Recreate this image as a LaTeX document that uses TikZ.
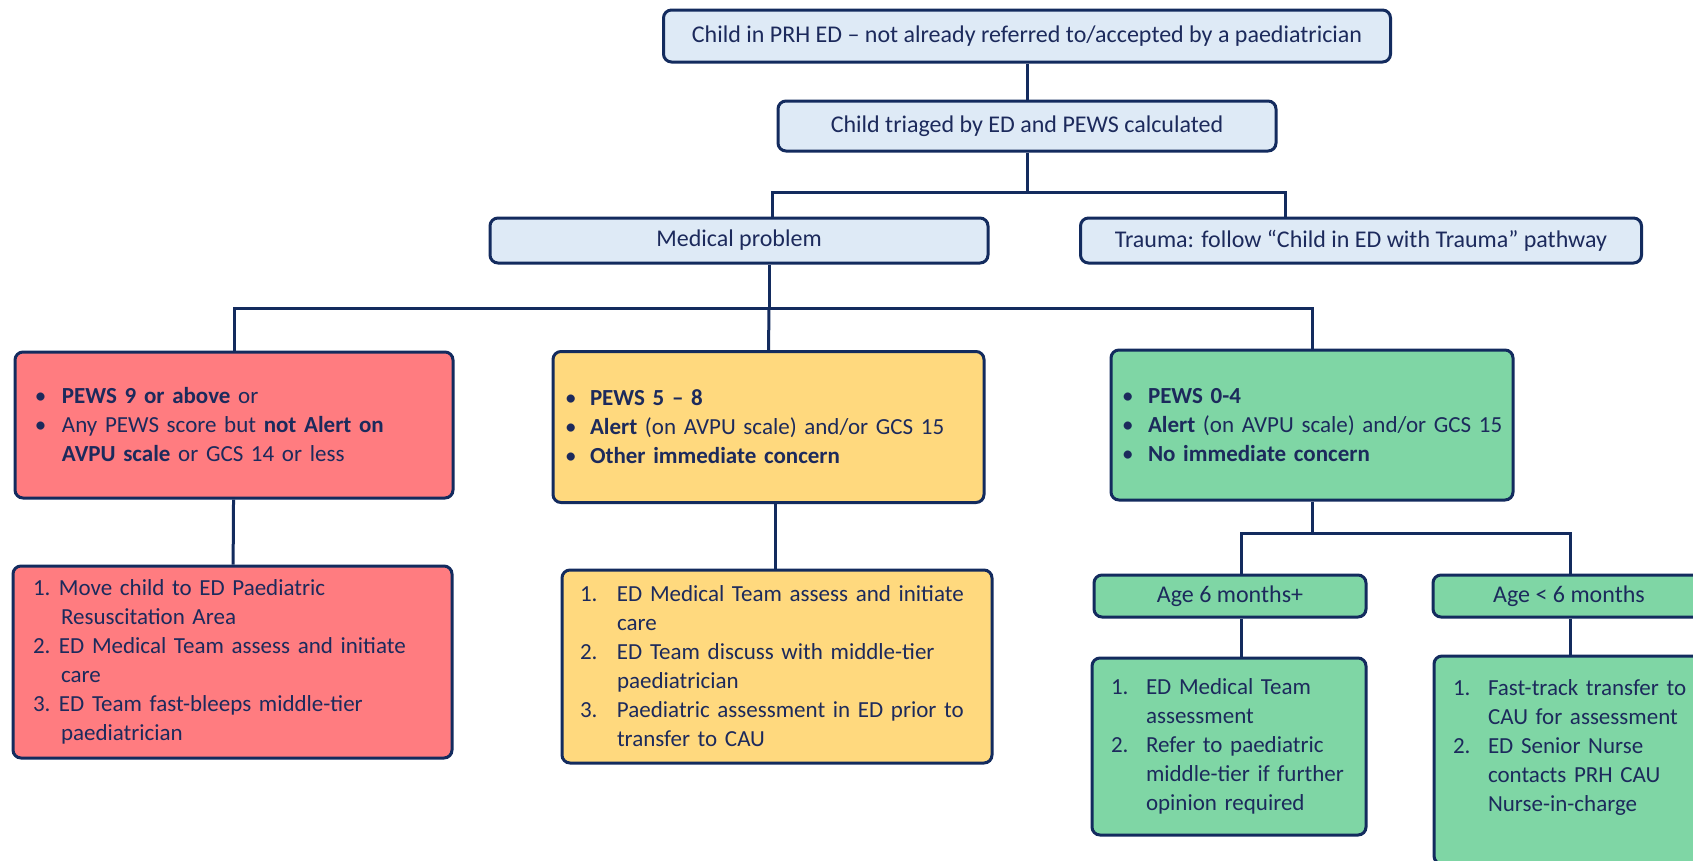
\documentclass[tikz,border=0pt]{standalone}
\usepackage{fontspec}
\setmainfont{Carlito}
\usepackage{tikz}
\usetikzlibrary{positioning}

\definecolor{pwline}{HTML}{132B5E}
\definecolor{pwtext}{HTML}{1C2A5C}
\definecolor{pwblue}{HTML}{DEEAF6}
\definecolor{pwred}{HTML}{FF7C80}
\definecolor{pwamber}{HTML}{FFD97E}
\definecolor{pwgreen}{HTML}{7FD6A5}

% list labels: lead-in, label width, label
\newcommand{\pwlab}[3]{\hspace*{#1}\makebox[#2][l]{#3}}
\newcommand{\pwcont}[1]{\hspace*{#1}}

\begin{document}
\begin{tikzpicture}[x=1pt, y=-1pt]
  \tikzstyle{card} = [draw=pwline, line width=3pt, rounded corners=8pt, inner sep=0pt,
    text=pwtext, font=\fontsize{23}{29}\selectfont]
  \tikzstyle{head} = [card, fill=pwblue, align=center, font=\fontsize{24}{29}\selectfont]
  \tikzstyle{list} = [card, align=left]
  \tikzstyle{link} = [draw=pwline, line width=3pt]

  \path[use as bounding box] (0,0) rectangle (1693,860);
  \fill[white] (0,0) rectangle (1693,860);
  \clip (0,0) rectangle (1693,860);

  % Define nodes
  \node[head, minimum width=727pt, minimum height=52pt] (start) at (1027,36)
    {Child in PRH ED – not already referred to/accepted by a paediatrician};
  \node[head, minimum width=498pt, minimum height=50pt] (triage) at (1027,126)
    {Child triaged by ED and PEWS calculated};
  \node[head, minimum width=498pt, minimum height=45pt] (medical) at (739,240.5)
    {Medical problem};
  \node[head, minimum width=561pt, minimum height=45pt] (trauma) at (1361,240.5)
    {Trauma: follow “Child in ED with Trauma” pathway};

  \node[list, fill=pwred, text width=438pt, minimum height=146pt] (red) at (234,425)
    {\pwlab{20pt}{27pt}{\textbullet}\textbf{PEWS 9 or above} or\\
     \pwlab{20pt}{27pt}{\textbullet}Any PEWS score but \textbf{not Alert on}\\
     \pwcont{47pt}\textbf{AVPU scale} or GCS 14 or less};
  \node[list, fill=pwamber, text width=431pt, minimum height=151pt] (amber) at (768.5,427)
    {\pwlab{12pt}{25pt}{\textbullet}\textbf{PEWS 5 – 8}\\
     \pwlab{12pt}{25pt}{\textbullet}\textbf{Alert} (on AVPU scale) and/or GCS 15\\
     \pwlab{12pt}{25pt}{\textbullet}\textbf{Other immediate concern}};
  \node[list, fill=pwgreen, text width=402pt, minimum height=150pt] (green) at (1312,425)
    {\pwlab{11pt}{26pt}{\textbullet}\textbf{PEWS 0-4}\\
     \pwlab{11pt}{26pt}{\textbullet}\textbf{Alert} (on AVPU scale) and/or GCS 15\\
     \pwlab{11pt}{26pt}{\textbullet}\textbf{No immediate concern}};

  \node[list, fill=pwred, text width=439pt, minimum height=192pt] (redact) at (232.5,662)
    {\pwlab{20pt}{26pt}{1.}Move child to ED Paediatric\\
     \pwcont{48pt}Resuscitation Area\\
     \pwlab{20pt}{26pt}{2.}ED Medical Team assess and initiate\\
     \pwcont{48pt}care\\
     \pwlab{20pt}{26pt}{3.}ED Team fast-bleeps middle-tier\\
     \pwcont{48pt}paediatrician};
  \node[list, fill=pwamber, text width=430pt, minimum height=193pt] (amberact) at (777,666.5)
    {\pwlab{18pt}{37pt}{1.}ED Medical Team assess and initiate\\
     \pwcont{55pt}care\\
     \pwlab{18pt}{37pt}{2.}ED Team discuss with middle-tier\\
     \pwcont{55pt}paediatrician\\
     \pwlab{18pt}{37pt}{3.}Paediatric assessment in ED prior to\\
     \pwcont{55pt}transfer to CAU};

  \node[head, fill=pwgreen, minimum width=272pt, minimum height=42pt] (older) at (1230,596)
    {Age 6 months+};
  \node[head, fill=pwgreen, minimum width=272pt, minimum height=42pt] (younger) at (1569,596)
    {Age < 6 months};
  \node[list, fill=pwgreen, text width=274pt, minimum height=177pt] (olderact) at (1229,746.5)
    {\pwlab{19pt}{35pt}{1.}ED Medical Team\\
     \pwcont{54pt}assessment\\
     \pwlab{19pt}{35pt}{2.}Refer to paediatric\\
     \pwcont{54pt}middle-tier if further\\
     \pwcont{54pt}opinion required};
  \node[list, fill=pwgreen, text width=272pt, minimum height=208pt] (youngeract) at (1570,760)
    {\pwlab{19pt}{35pt}{1.}Fast-track transfer to\\
     \pwcont{54pt}CAU for assessment\\
     \pwlab{19pt}{35pt}{2.}ED Senior Nurse\\
     \pwcont{54pt}contacts PRH CAU\\
     \pwcont{54pt}Nurse-in-charge\\ \mbox{}};

  % junctions
  \coordinate (fork) at (1027,192);
  \coordinate (forkl) at (772,192);
  \coordinate (forkr) at (1285,192);
  \coordinate (split) at (769,308);
  \coordinate (gsplit) at (1312,533);
  \coordinate (gl) at (1241,533);
  \coordinate (gr) at (1570,533);

  % Connectors
  \draw[link] (start) -- (triage);
  \draw[link] (triage.south -| fork) -- (fork);
  \draw[link] (forkl |- medical.north) -- (forkl) -- (forkr) -- (forkr |- trauma.north);
  \draw[link] (medical.south -| split) -- (split);
  \draw[link] (red.north) |- (split) -| (green.north);
  \draw[link] (split) -- (amber.north);
  \draw[link] (red) -- (redact);
  \draw[link] (amber.south -| 775,0) -- (amberact.north -| 775,0);
  \draw[link] (green) -- (gsplit);
  \draw[link] (gl |- older.north) -- (gl) -- (gr) -- (gr |- younger.north);
  \draw[link] (older.south -| gl) -- (olderact.north -| gl);
  \draw[link] (younger.south -| gr) -- (youngeract.north -| gr);
\end{tikzpicture}
\end{document}
